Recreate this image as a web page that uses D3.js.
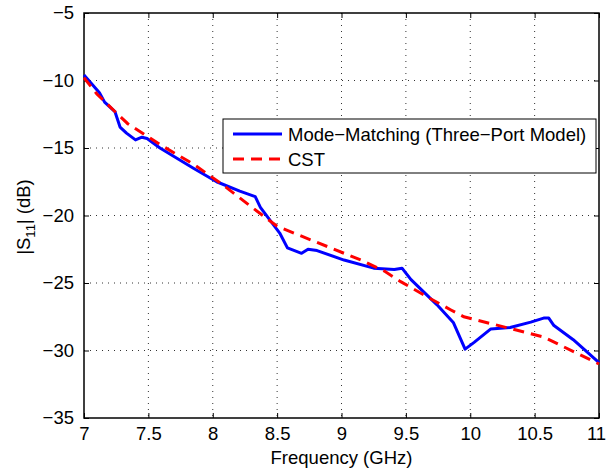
<!DOCTYPE html>
<html>
<head>
  <meta charset="utf-8">
  <title>S11 vs Frequency</title>
  <script src="https://d3js.org/d3.v7.min.js"></script>
  <style>
    body { margin: 0; background: #fff; }
    text { font-family: "Liberation Sans", Arial, sans-serif; }
  </style>
</head>
<body>

  <svg width="607" height="472"></svg>

  <script>

    // Mode-Matching (three-port model) curve
    const mmFreq = [7.0, 7.12, 7.16, 7.24, 7.28, 7.33, 7.40, 7.45, 7.49, 7.59, 7.85, 8.03, 8.21, 8.33,
                    8.37, 8.52, 8.58, 8.69, 8.74, 8.81, 9.02, 9.25, 9.41, 9.47, 9.54, 9.61, 9.74, 9.87,
                    9.96, 10.03, 10.16, 10.31, 10.47, 10.57, 10.61, 10.65, 10.80, 11.0];
    const mmS11  = [-9.6, -10.9, -11.6, -12.3, -13.45, -13.9, -14.4, -14.2, -14.3, -15.0, -16.5, -17.5, -18.2, -18.6,
                    -19.4, -21.3, -22.4, -22.8, -22.5, -22.6, -23.3, -23.9, -24.0, -23.9, -24.75, -25.4, -26.6, -27.95,
                    -29.9, -29.4, -28.4, -28.3, -27.9, -27.6, -27.6, -28.15, -29.2, -30.9];

    // CST curve
    const cstFreq = [7.0, 7.1, 7.24, 7.34, 7.6, 7.85, 8.06, 8.32, 8.5, 8.76, 9.15, 9.33, 9.46, 9.66, 9.85, 9.95, 10.26, 10.57, 11.0];
    const cstS11  = [-9.8, -11.0, -12.3, -13.2, -14.8, -16.2, -17.6, -19.5, -20.8, -21.8, -23.3, -24.1, -24.9, -26.0, -27.0, -27.5, -28.25, -29.0, -31.0];

    // Tick values
    const xTicks = [7, 7.5, 8, 8.5, 9, 9.5, 10, 10.5, 11];
    const yTicks = [-35, -30, -25, -20, -15, -10, -5];

    const seriesNames = ["Mode\u2212Matching (Three\u2212Port Model)", "CST"];

    const margin = { top: 13, right: 8, bottom: 54, left: 84 };
    const width = 607, height = 472;
    const chartWidth = width - margin.left - margin.right;
    const chartHeight = height - margin.top - margin.bottom;

    const svg = d3.select("svg");
    const chart = svg.append("g")
      .attr("transform", `translate(${margin.left},${margin.top})`);

    const x = d3.scaleLinear().domain([7, 11]).range([0, chartWidth]);
    const y = d3.scaleLinear().domain([-35, -5]).range([chartHeight, 0]);

    // dotted grid
    chart.append("g").selectAll("line")
      .data(xTicks.slice(1, -1))
      .join("line")
        .attr("x1", d => x(d)).attr("x2", d => x(d))
        .attr("y1", 0).attr("y2", chartHeight)
        .attr("stroke", "#333").attr("stroke-width", 1)
        .attr("stroke-dasharray", "1,5");
    chart.append("g").selectAll("line")
      .data(yTicks.slice(1, -1))
      .join("line")
        .attr("x1", 0).attr("x2", chartWidth)
        .attr("y1", d => y(d)).attr("y2", d => y(d))
        .attr("stroke", "#333").attr("stroke-width", 1)
        .attr("stroke-dasharray", "1,5");

    // axes, ticks pointing inward
    const fmt = d => String(d).replace("-", "\u2212");
    const axisStyle = g => {
      g.select(".domain").remove();
      g.selectAll("line").attr("stroke", "#000");
      g.selectAll("text").attr("font-size", 18.5).attr("fill", "#000")
        .attr("font-family", "'Liberation Sans', Arial, sans-serif");
    };

    const xAxis = chart.append("g")
      .attr("transform", `translate(0,${chartHeight})`)
      .call(d3.axisBottom(x).tickValues(xTicks).tickFormat(fmt).tickSizeInner(-5).tickSizeOuter(0).tickPadding(9))
      .call(axisStyle);
    // keep the last label inside the page
    xAxis.selectAll("text").filter(d => d === 11).attr("dx", -3);
    chart.append("g")
      .call(d3.axisTop(x).tickValues(xTicks).tickFormat("").tickSizeInner(-5).tickSizeOuter(0))
      .call(axisStyle);
    chart.append("g")
      .call(d3.axisLeft(y).tickValues(yTicks).tickFormat(fmt).tickSizeInner(-5).tickSizeOuter(0).tickPadding(10))
      .call(axisStyle);
    chart.append("g")
      .attr("transform", `translate(${chartWidth},0)`)
      .call(d3.axisRight(y).tickValues(yTicks).tickFormat("").tickSizeInner(-5).tickSizeOuter(0))
      .call(axisStyle);

    // frame
    chart.append("rect")
      .attr("width", chartWidth).attr("height", chartHeight)
      .attr("fill", "none").attr("stroke", "#000").attr("stroke-width", 1.5);

    const line = d3.line().x(d => x(d[0])).y(d => y(d[1]));

    chart.append("path")
      .datum(mmFreq.map((f, i) => [f, mmS11[i]]))
      .attr("d", line)
      .attr("fill", "none").attr("stroke", "#0000ff").attr("stroke-width", 3)
      .attr("stroke-linejoin", "round");

    chart.append("path")
      .datum(cstFreq.map((f, i) => [f, cstS11[i]]))
      .attr("d", line)
      .attr("fill", "none").attr("stroke", "#ff0000").attr("stroke-width", 3)
      .attr("stroke-dasharray", "11,7");

    // legend
    const legend = svg.append("g").attr("transform", "translate(223,119)");
    legend.append("rect")
      .attr("width", 373).attr("height", 54)
      .attr("fill", "#fff").attr("stroke", "#000").attr("stroke-width", 1);
    const legendStyles = [
      { color: "#0000ff", dash: null },
      { color: "#ff0000", dash: "11,7" }
    ];
    seriesNames.forEach((name, i) => {
      const cy = 15 + i * 25;
      legend.append("line")
        .attr("x1", 10).attr("x2", 59).attr("y1", cy).attr("y2", cy)
        .attr("stroke", legendStyles[i].color).attr("stroke-width", 3)
        .attr("stroke-dasharray", legendStyles[i].dash);
      legend.append("text")
        .attr("x", 65).attr("y", cy + 7)
        .attr("font-size", 18.5)
        .text(name);
    });

    // axis labels
    svg.append("text")
      .attr("x", margin.left + chartWidth / 2).attr("y", 464)
      .attr("text-anchor", "middle").attr("font-size", 18.5)
      .text("Frequency (GHz)");

    const yl = svg.append("text")
      .attr("transform", "translate(30,217) rotate(-90)")
      .attr("text-anchor", "middle").attr("font-size", 18.5);
    yl.append("tspan").text("|S");
    yl.append("tspan").attr("font-size", 13).attr("dy", 5).text("11");
    yl.append("tspan").attr("dy", -5).text("| (dB)");

  </script>

</body>
</html>
